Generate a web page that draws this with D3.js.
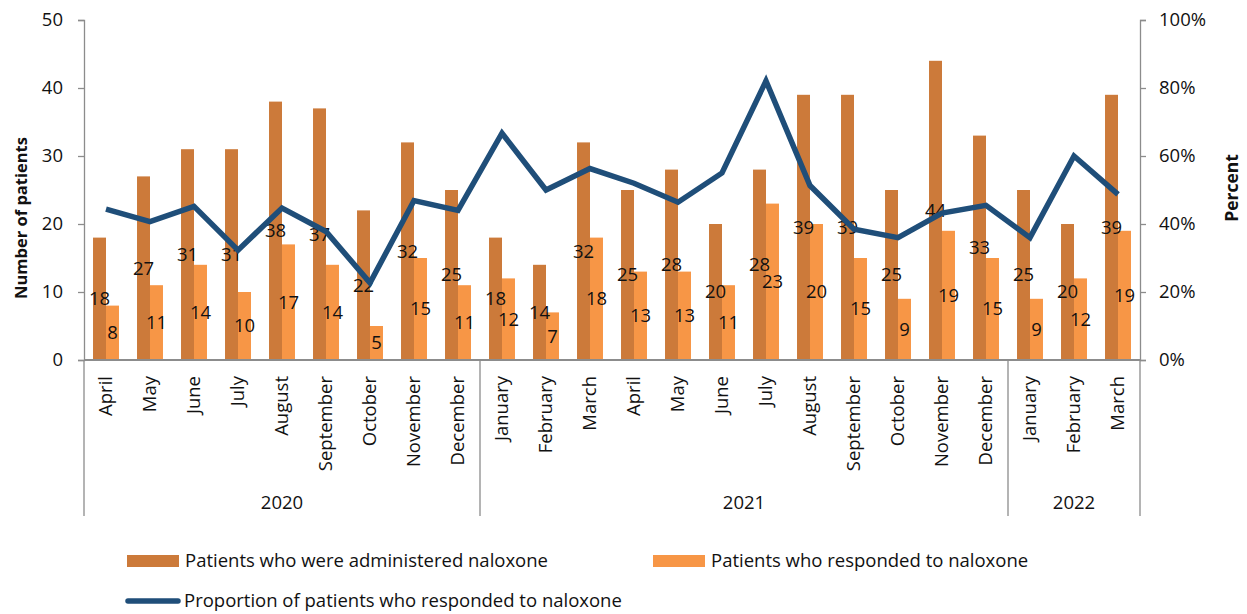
<!DOCTYPE html>
<html>
<head>
<meta charset="utf-8">
<script src="https://cdn.jsdelivr.net/npm/d3@7"></script>
<style>
  body { margin: 0; background: #fff; }
  text { font-family: "Open Sans", sans-serif; fill: #111; }
</style>
</head>
<body>
<div id="chart"></div>
<script>
// months from April 2020 to March 2022
var months = ["April", "May", "June", "July", "August", "September", "October", "November", "December",
	"January", "February", "March", "April", "May", "June", "July", "August", "September", "October", "November", "December",
	"January", "February", "March"];
var years = ["2020", "2021", "2022"];
var yearCounts = [9, 12, 3];

var administered = [18, 27, 31, 31, 38, 37, 22, 32, 25, 18, 14, 32, 25, 28, 20, 28, 39, 39, 25, 44, 33, 25, 20, 39];
var responded = [8, 11, 14, 10, 17, 14, 5, 15, 11, 12, 7, 18, 13, 13, 11, 23, 20, 15, 9, 19, 15, 9, 12, 19];
var percent = [44.4, 40.7, 45.2, 32.3, 44.7, 37.8, 22.7, 46.9, 44.0, 66.7, 50.0, 56.3, 52.0, 46.4, 55.0, 82.1, 51.3, 38.5, 36.0, 43.2, 45.5, 36.0, 60.0, 48.7];

var leftTicks = [0, 10, 20, 30, 40, 50];
var rightTicks = [0, 20, 40, 60, 80, 100];

var seriesNames = ["Patients who were administered naloxone", "Patients who responded to naloxone",
	"Proportion of patients who responded to naloxone"];

function init() {

	var w = 1247;
	var h = 614;

	var left = 84, right = 1140, top = 20, bottom = 360;

	var fontSize = 18.5;

	var darkColor = "#CC7A3A";
	var lightColor = "#F79646";
	var lineColor = "#1F4E79";
	var axisColor = "#8C8C8C";

	var svg = d3.select("#chart")
		.append("svg")
		.attr("width", w)
		.attr("height", h);

	var xScale = d3.scaleBand()
		.domain(d3.range(months.length))
		.range([left, right])
		.paddingInner(0.41)
		.paddingOuter(0.205);

	var xSub = d3.scaleBand()
		.domain([0, 1])
		.range([0, xScale.bandwidth()]);

	var yScale = d3.scaleLinear()
		.domain([0, 50])
		.range([bottom, top]);

	var pScale = d3.scaleLinear()
		.domain([0, 100])
		.range([bottom, top]);

	var step = xScale.step();
	function center(i) {
		return xScale(i) + xScale.bandwidth() / 2;
	}

	// bars
	var groups = svg.selectAll("g.month")
		.data(d3.range(months.length))
		.enter()
		.append("g")
		.attr("class", "month");

	groups.append("rect")
		.attr("x", function(i) { return xScale(i) + xSub(0); })
		.attr("y", function(i) { return yScale(administered[i]); })
		.attr("width", xSub.bandwidth())
		.attr("height", function(i) { return bottom - yScale(administered[i]); })
		.attr("fill", darkColor);

	groups.append("rect")
		.attr("x", function(i) { return xScale(i) + xSub(1); })
		.attr("y", function(i) { return yScale(responded[i]); })
		.attr("width", xSub.bandwidth())
		.attr("height", function(i) { return bottom - yScale(responded[i]); })
		.attr("fill", lightColor);

	// left axis
	var yAxis = svg.append("g")
		.attr("transform", "translate(" + left + ",0)")
		.call(d3.axisLeft(yScale).tickValues(leftTicks).tickSize(6).tickPadding(15));

	// right axis
	var pAxis = svg.append("g")
		.attr("transform", "translate(" + right + ",0)")
		.call(d3.axisRight(pScale).tickValues(rightTicks).tickSize(6).tickPadding(13)
			.tickFormat(function(d) { return d + "%"; }));

	[yAxis, pAxis].forEach(function(a) {
		a.selectAll("path, line").attr("stroke", axisColor).attr("stroke-width", 1.3);
		a.selectAll("text").attr("font-size", fontSize).attr("font-family", "Open Sans").attr("fill", "#111");
	});

	// baseline
	svg.append("line")
		.attr("x1", left).attr("x2", right)
		.attr("y1", bottom).attr("y2", bottom)
		.attr("stroke", axisColor)
		.attr("stroke-width", 2);

	// month labels
	svg.selectAll("text.monthLabel")
		.data(d3.range(months.length))
		.enter()
		.append("text")
		.attr("class", "monthLabel")
		.attr("transform", function(i) { return "translate(" + center(i) + ",376) rotate(-90)"; })
		.attr("dy", "0.35em")
		.attr("text-anchor", "end")
		.attr("font-size", fontSize)
		.text(function(i) { return months[i]; });

	// year dividers and labels
	var start = 0;
	var dividers = [0];
	years.forEach(function(y, k) {
		var x0 = xScale(start) - step * 0.205;
		var x1 = xScale(start + yearCounts[k] - 1) + xScale.bandwidth() + step * 0.205;
		svg.append("text")
			.attr("x", (x0 + x1) / 2)
			.attr("y", 503)
			.attr("dy", "0.35em")
			.attr("text-anchor", "middle")
			.attr("font-size", fontSize)
			.text(y);
		start += yearCounts[k];
		dividers.push(start);
	});

	svg.selectAll("line.divider")
		.data(dividers)
		.enter()
		.append("line")
		.attr("class", "divider")
		.attr("x1", function(d) { return d < months.length ? xScale(d) - step * 0.205 : right; })
		.attr("x2", function(d) { return d < months.length ? xScale(d) - step * 0.205 : right; })
		.attr("y1", bottom)
		.attr("y2", 516)
		.attr("stroke", axisColor)
		.attr("stroke-width", 1.3);

	// proportion line
	var line = d3.line()
		.x(function(d, i) { return center(i); })
		.y(function(d) { return pScale(d); });

	svg.append("path")
		.datum(percent)
		.attr("d", line)
		.attr("fill", "none")
		.attr("stroke", lineColor)
		.attr("stroke-width", 5.5);

	// data labels, centred in each bar
	groups.append("text")
		.attr("x", function(i) { return xScale(i) + xSub(0) + xSub.bandwidth() / 2; })
		.attr("y", function(i) { return (yScale(administered[i]) + bottom) / 2; })
		.attr("dy", "0.35em")
		.attr("text-anchor", "middle")
		.attr("font-size", fontSize)
		.text(function(i) { return administered[i]; });

	groups.append("text")
		.attr("x", function(i) { return xScale(i) + xSub(1) + xSub.bandwidth() / 2; })
		.attr("y", function(i) { return (yScale(responded[i]) + bottom) / 2; })
		.attr("dy", "0.35em")
		.attr("text-anchor", "middle")
		.attr("font-size", fontSize)
		.text(function(i) { return responded[i]; });

	// axis titles
	svg.append("text")
		.attr("transform", "translate(21,218) rotate(-90)")
		.attr("text-anchor", "middle")
		.attr("dy", "0.35em")
		.attr("font-size", 16.5)
		.attr("font-weight", "bold")
		.text("Number of patients");

	svg.append("text")
		.attr("transform", "translate(1232,188) rotate(-90)")
		.attr("text-anchor", "middle")
		.attr("dy", "0.35em")
		.attr("font-size", 17.5)
		.attr("font-weight", "bold")
		.text("Percent");

	// legend
	var legend = [
		{ x: 127, y: 561, kind: "bar", color: darkColor },
		{ x: 653, y: 561, kind: "bar", color: lightColor },
		{ x: 126, y: 601, kind: "line", color: lineColor }
	];

	legend.forEach(function(l, k) {
		if (l.kind == "bar") {
			svg.append("rect")
				.attr("x", l.x).attr("y", l.y - 6)
				.attr("width", 52).attr("height", 12)
				.attr("fill", l.color);
		} else {
			svg.append("line")
				.attr("x1", l.x + 2).attr("x2", l.x + 52)
				.attr("y1", l.y).attr("y2", l.y)
				.attr("stroke", l.color)
				.attr("stroke-width", 5.5)
				.attr("stroke-linecap", "round");
		}
		svg.append("text")
			.attr("x", l.x + 58)
			.attr("y", l.y)
			.attr("dy", "0.35em")
			.attr("font-size", fontSize)
			.text(seriesNames[k]);
	});

}

window.onload = init;
</script>
</body>
</html>
